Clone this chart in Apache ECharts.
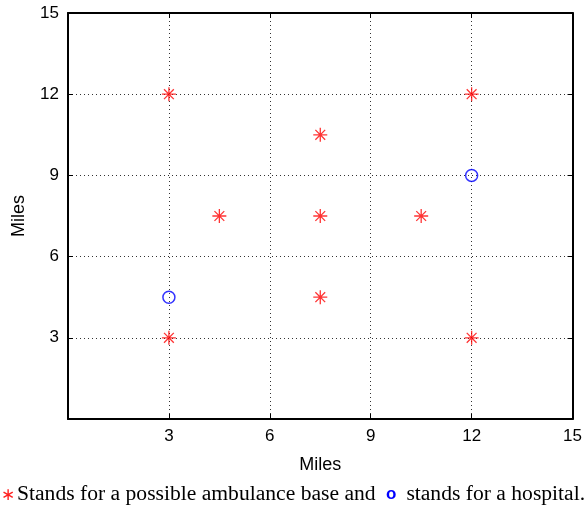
<!DOCTYPE html>
<html><head><meta charset="utf-8">
<script src="https://cdn.jsdelivr.net/npm/echarts@6/dist/echarts.min.js"></script>
<style>html,body{margin:0;padding:0;background:#fff}#c{width:585px;height:512px}</style>
</head><body><div id="c"></div>
<script>
const baseX = [3, 12, 7.5, 4.5, 7.5, 10.5, 7.5, 3, 12];
const baseY = [12, 12, 10.5, 7.5, 7.5, 7.5, 4.5, 3, 3];
const hospX = [12, 3];
const hospY = [9, 4.5];
const ticks = [3, 6, 9, 12, 15];
const xTitle = 'Miles';
const yTitle = 'Miles';
const caption = ['Stands for a possible ambulance base and ', 'stands for a hospital.'];

const chart = echarts.init(document.getElementById('c'));
const star = 'path://M0,-10L0,10M-10,0L10,0M-7,-7L7,7M-7,7L7,-7';
const mkAxis = (extra) => Object.assign({
  type: 'value', min: 0, max: 15, interval: 3,
  axisLine: {show: true, onZero: false, lineStyle: {color: '#000', width: 2}},
  axisTick: {show: true, inside: true, length: 5, lineStyle: {color: '#000', width: 1},
    customValues: ticks},
}, extra);
chart.setOption({
  animation: false,
  grid: {left: 68, right: 9, top: 13, bottom: 93, show: false},
  xAxis: [
    mkAxis({
      position: 'bottom',
      axisLabel: {color: '#000', fontSize: 17, fontFamily: 'Liberation Sans', margin: 9,
        formatter: v => ticks.includes(v) ? String(v) : ''},
      splitLine: {show: true, lineStyle: {color: '#333', type: [1, 3], width: 1}},
      name: xTitle, nameLocation: 'middle', nameGap: 37,
      nameTextStyle: {color: '#000', fontSize: 18, fontFamily: 'Liberation Sans'}
    }),
    mkAxis({position: 'top', axisLabel: {show: false}, splitLine: {show: false}})
  ],
  yAxis: [
    mkAxis({
      position: 'left',
      axisLabel: {color: '#000', fontSize: 17, fontFamily: 'Liberation Sans', margin: 9,
        formatter: v => ticks.includes(v) ? String(v) : ''},
      splitLine: {show: true, lineStyle: {color: '#333', type: [1, 3], width: 1}},
      name: yTitle, nameLocation: 'middle', nameGap: 40, nameRotate: 90,
      nameTextStyle: {color: '#000', fontSize: 18, fontFamily: 'Liberation Sans'}
    }),
    mkAxis({position: 'right', axisLabel: {show: false}, splitLine: {show: false}})
  ],
  series: [
    {type: 'scatter', data: baseX.map((x, i) => [x, baseY[i]]), symbol: star, symbolSize: 14,
      itemStyle: {color: 'rgba(0,0,0,0)', borderColor: '#ff0000', borderWidth: 1.3}},
    {type: 'scatter', data: hospX.map((x, i) => [x, hospY[i]]), symbol: 'circle', symbolSize: 12,
      itemStyle: {color: 'rgba(0,0,0,0)', borderColor: '#0000ff', borderWidth: 1.5}}
  ],
  graphic: [{
    type: 'text', left: 1, top: 483,
    style: {
      text: '{a|∗}' + caption[0] + '{b|o}' + caption[1],
      fontFamily: 'Liberation Serif', fontSize: 21.6, fill: '#000',
      rich: {
        a: {fill: '#ff2020', fontSize: 17, fontFamily: 'Liberation Serif', padding: [4, 2, 0, 0]},
        b: {fill: '#0000ff', fontSize: 17, fontWeight: 'bold', fontFamily: 'Liberation Sans', padding: [0, 10, 0, 5]}
      }
    }
  }]
});
</script></body></html>
